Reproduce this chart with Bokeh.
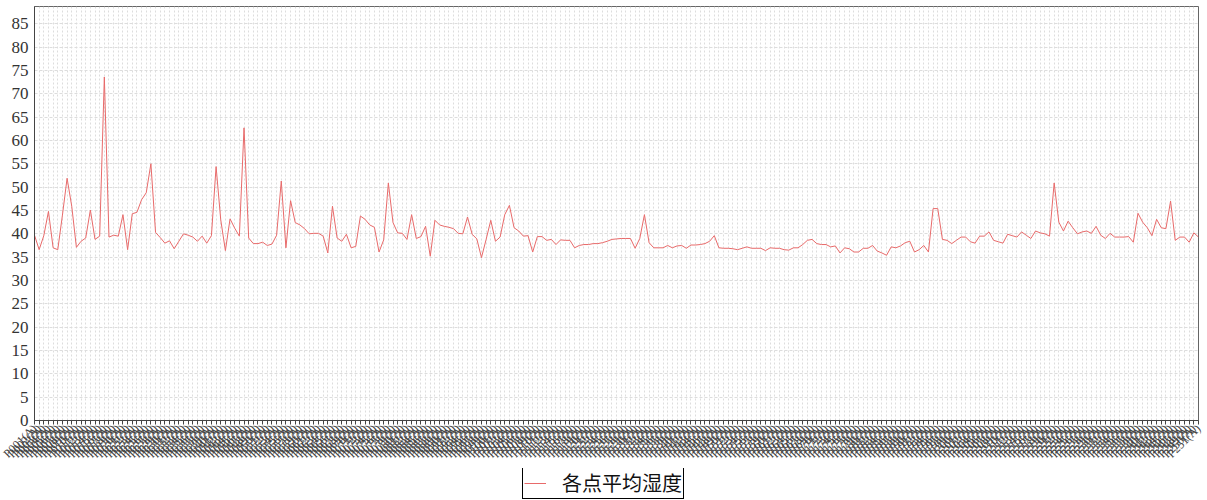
import math
from bokeh.plotting import figure
from bokeh.layouts import column
from bokeh.models import ColumnDataSource, Range1d, FixedTicker, Legend, LegendItem
from bokeh.embed import file_html
from bokeh.resources import INLINE

series_name = "各点平均湿度"

humidity = [
    39.7, 36.6, 39.6, 44.8, 37.0, 36.6, 44.0, 51.9, 45.9, 37.1,
    38.4, 39.1, 45.1, 38.8, 39.5, 73.6, 39.3, 39.7, 39.5, 44.1,
    36.6, 44.3, 44.6, 47.3, 48.8, 55.0, 40.3, 39.2, 38.0, 38.5,
    36.8, 38.4, 40.0, 39.7, 39.3, 38.4, 39.5, 38.0, 39.6, 54.4,
    43.0, 36.4, 43.2, 41.2, 39.5, 62.7, 39.1, 37.9, 37.9, 38.2,
    37.5, 37.8, 39.7,
    51.3, 37.0, 47.1, 42.4, 41.9, 41.1, 40.0, 40.1, 40.1, 39.5,
    35.9, 45.9, 39.1, 38.4, 39.9, 37.0, 37.3, 43.8, 43.1, 41.9,
    41.4, 36.1, 38.7, 50.9, 42.4, 40.2, 40.1, 38.8, 44.1, 39.0,
    39.4, 41.6, 35.2, 42.9, 41.9, 41.6, 41.4, 41.1, 40.1, 40.0,
    43.6, 39.9, 38.9, 34.9, 38.8, 42.9, 38.4, 39.3, 44.1, 46.1,
    41.3, 40.6, 39.5, 39.6, 36.1, 39.4, 39.4, 38.6, 38.8, 37.7,
    38.7, 38.6, 38.6, 37.0, 37.5, 37.7, 37.7, 37.9, 37.9, 38.1,
    38.4, 38.8, 38.9, 39.0, 39.0, 39.0, 36.9, 39.0, 44.1, 38.1,
    37.0, 37.0, 37.0, 37.5, 37.0, 37.4, 37.5, 36.9, 37.6, 37.6,
    37.7, 37.9, 38.4, 39.6, 37.0, 36.9, 36.9, 36.8, 36.6, 36.9,
    37.2, 36.9, 36.9, 36.9, 36.4, 37.0, 36.9, 36.9, 36.6, 36.5,
    37.0, 37.0, 37.7, 38.6, 38.8, 37.9, 37.7, 37.7, 37.2, 37.4,
    35.9, 37.0, 36.8, 36.1, 36.1, 36.9, 36.9, 37.5, 36.3, 35.9,
    35.4, 37.2, 37.0, 37.4, 38.1, 38.4, 36.1, 36.6, 37.5, 36.1,
    45.4, 45.4, 38.8, 38.6, 37.9,
    38.6, 39.3, 39.3, 38.3, 38.0, 39.5, 39.5, 40.4, 38.6, 38.3,
    38.0, 39.9, 39.6, 39.3, 40.4, 39.7, 39.0, 40.6, 40.2, 40.0,
    39.5, 50.9, 42.5, 40.6, 42.7, 41.3, 40.0, 40.4, 40.6, 40.1,
    41.6, 39.7, 39.0, 40.1, 39.3, 39.3, 39.3, 39.4, 38.2, 44.4,
    42.5, 41.3, 39.6, 43.1, 41.3, 41.1, 47.0, 38.6, 39.3, 39.3,
    38.2, 40.2, 39.3,
]

n = len(humidity)
point_labels = [f"P{i + 1:03d}(A)" for i in range(n)]
y_ticks = list(range(0, 90, 5))
line_color = "#e86a6a"

src = ColumnDataSource(data=dict(x=list(range(n)), y=humidity, name=point_labels))

p = figure(frame_width=1164, frame_height=414, output_backend="svg", toolbar_location=None,
           x_range=Range1d(0, n - 1), y_range=Range1d(0, 88.7),
           min_border_left=34, min_border_right=9, min_border_top=6, min_border_bottom=43)
p.outline_line_color = "#666666"
p.outline_line_width = 1

r = p.line(x="x", y="y", source=src, line_color=line_color, line_width=1)

ticks = list(range(n))
p.xaxis.ticker = FixedTicker(ticks=ticks)
p.xaxis.major_label_overrides = {i: lab for i, lab in enumerate(point_labels)}
p.xaxis.major_label_orientation = math.pi / 4
p.xaxis.major_label_text_font = "Liberation Serif"
p.xaxis.major_label_text_font_size = "12px"
p.xaxis.major_label_text_color = "#444444"
p.xaxis.major_label_standoff = 2
p.xaxis.major_tick_out = 4
p.xaxis.major_tick_in = 0
p.xaxis.minor_tick_line_color = None
p.xaxis.axis_line_color = "#444444"
p.xaxis.major_tick_line_color = "#444444"

p.yaxis.ticker = FixedTicker(ticks=y_ticks)
p.yaxis.major_label_text_font = "Liberation Serif"
p.yaxis.major_label_text_font_size = "17px"
p.yaxis.major_label_text_color = "#333333"
p.yaxis.major_tick_out = 0
p.yaxis.major_tick_in = 0
p.yaxis.minor_tick_line_color = None
p.yaxis.axis_line_color = "#444444"
p.yaxis.major_label_standoff = 6

p.xgrid.ticker = FixedTicker(ticks=ticks)
p.xgrid.grid_line_color = "#dddddd"
p.xgrid.grid_line_dash = "2 2"
p.ygrid.ticker = FixedTicker(ticks=y_ticks)
p.ygrid.grid_line_color = "#dddddd"
p.ygrid.grid_line_dash = "3 2"

# legend strip below the chart (same horizontal frame as the chart);
# the series is out of this strip's view, only its legend entry shows
lg = figure(frame_width=1164, frame_height=32, output_backend="svg", toolbar_location=None,
            x_range=Range1d(-20, -10), y_range=Range1d(0, 1),
            min_border_left=34, min_border_right=9, min_border_top=0, min_border_bottom=0)
lg.axis.visible = False
lg.grid.visible = False
lg.outline_line_color = None
lr = lg.line(x="x", y="y", source=src, line_color=line_color, line_width=1)

legend = Legend(items=[LegendItem(label=series_name, renderers=[lr])],
                location=(488, 1), orientation="horizontal")
legend.label_text_font = "Noto Sans CJK SC"
legend.label_text_font_size = "20px"
legend.label_text_color = "#111111"
legend.border_line_color = "black"
legend.border_line_width = 1
legend.border_line_alpha = 1.0
legend.glyph_width = 22
legend.glyph_height = 20
legend.label_height = 20
legend.padding = 1
legend.margin = 0
legend.label_standoff = 16
lg.add_layout(legend, "center")

layout = column(p, lg, spacing=0)
open("out.html", "w").write(file_html(layout, INLINE))
